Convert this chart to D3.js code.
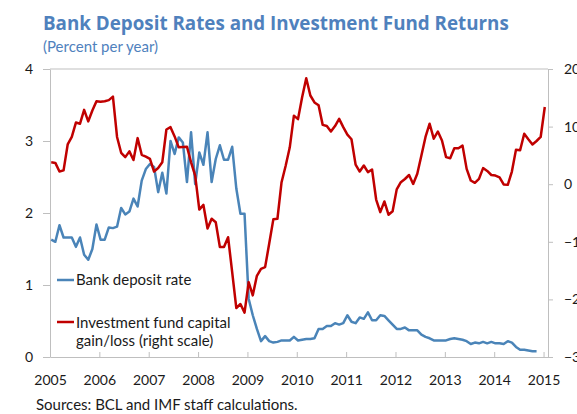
<!DOCTYPE html>
<html>
<head>
<meta charset="utf-8">
<script src="https://cdn.jsdelivr.net/npm/d3@7"></script>
<style>
  body { margin: 0; background: #fff; }
  svg text { font-family: Lato, "Open Sans", sans-serif; }
</style>
</head>
<body>
<svg id="chart"></svg>
<script>
// monthly observations, Jan 2005 onwards
const startYear = 2005;
const years = [2005, 2006, 2007, 2008, 2009, 2010, 2011, 2012, 2013, 2014, 2015];
const leftTicks = [0, 1, 2, 3, 4];
const rightTicks = [-30, -20, -10, 0, 10, 20];

// bank deposit rate, percent (left scale)
const depositRate = [
  1.63, 1.60, 1.83, 1.66, 1.66, 1.66, 1.53, 1.66, 1.42, 1.35, 1.50, 1.84,
  1.63, 1.63, 1.80, 1.79, 1.81, 2.07, 1.98, 2.02, 2.20, 2.09, 2.45, 2.61,
  2.68, 2.64, 2.29, 2.56, 2.27, 3.00, 2.82, 3.05, 2.98, 2.43, 3.12, 2.40,
  2.84, 2.67, 3.12, 2.43, 2.75, 2.94, 2.74, 2.74, 2.92, 2.34, 1.99, 1.99,
  0.81, 0.58, 0.39, 0.22, 0.29, 0.22, 0.20, 0.21, 0.23, 0.23, 0.23, 0.28,
  0.23, 0.24, 0.25, 0.25, 0.26, 0.39, 0.39, 0.43, 0.43, 0.47, 0.45, 0.47,
  0.58, 0.49, 0.47, 0.55, 0.53, 0.62, 0.51, 0.51, 0.58, 0.57, 0.51, 0.45,
  0.39, 0.39, 0.41, 0.37, 0.37, 0.37, 0.31, 0.28, 0.26, 0.23, 0.23, 0.23,
  0.23, 0.25, 0.26, 0.25, 0.24, 0.22, 0.18, 0.20, 0.19, 0.21, 0.19, 0.21,
  0.19, 0.19, 0.18, 0.22, 0.20, 0.14, 0.10, 0.10, 0.09, 0.08, 0.08
];

// investment fund capital gain/loss, percent (right scale)
const fundReturn = [
  3.8, 3.7, 2.2, 2.4, 6.9, 8.2, 10.7, 10.5, 12.9, 10.9, 12.8, 14.4,
  14.3, 14.4, 14.6, 15.2, 8.2, 5.45, 4.7, 5.7, 4.2, 8.0, 5.1, 4.8,
  4.4, 2.2, 2.8, 3.8, 9.5, 9.9, 8.3, 6.4, 6.45, 6.5, 3.8, 1.5,
  -4.4, -3.6, -7.7, -6.0, -6.6, -10.9, -10.9, -9.2, -15.3, -21.5, -20.8, -22.3,
  -17.0, -19.3, -15.9, -14.7, -14.4, -10.3, -6.1, -6.0, 0.35, 3.2, 6.4, 11.9,
  11.3, 15.1, 18.4, 15.4, 14.2, 13.7, 10.3, 10.1, 9.15, 10.1, 11.35, 9.9,
  8.6, 7.8, 3.4, 2.2, 3.25, 2.1, 2.55, -2.66, -4.85, -3.0, -5.3, -4.7,
  -0.9, 0.35, 0.9, 1.6, 0.05, 1.8, 5.0, 8.2, 10.5, 7.9, 9.15, 7.6,
  4.7, 4.5, 6.25, 6.25, 6.7, 2.66, 0.64, 0.24, 0.93, 2.8, 2.3, 1.6,
  1.5, 1.2, -0.05, -0.1, 2.2, 6.0, 5.9, 8.75, 7.8, 6.9, 7.5, 8.2,
  13.4
];

const width = 577, height = 414;
const plotLeft = 50, plotRight = 548, plotTop = 69, plotBottom = 357;
const grey = '#bfbfbf';
const blue = '#4a84b8';
const red = '#c00000';

const svg = d3.select('#chart')
  .attr('width', width)
  .attr('height', height);

const x = d3.scaleLinear()
  .domain([2005, 2015.09])
  .range([plotLeft, plotRight]);

const yLeft = d3.scaleLinear()
  .domain([0, 4])
  .range([plotBottom, plotTop]);

const yRight = d3.scaleLinear()
  .domain([-30, 20])
  .range([plotBottom, plotTop]);

const monthX = (i) => x(startYear + (i + 0.3) / 12);

// title
svg.append('text')
  .attr('x', 43)
  .attr('y', 30)
  .attr('fill', '#4f81bd')
  .style('font-family', '"Open Sans", Lato, sans-serif')
  .style('font-size', '18.8px')
  .style('font-weight', 'bold')
  .text('Bank Deposit Rates and Investment Fund Returns');

svg.append('text')
  .attr('x', 43)
  .attr('y', 52)
  .attr('fill', '#4f81bd')
  .style('font-size', '15px')
  .text('(Percent per year)');

// frame top
svg.append('line')
  .attr('x1', plotLeft).attr('x2', plotRight)
  .attr('y1', plotTop).attr('y2', plotTop)
  .attr('stroke', grey);

const styleAxis = (g) => {
  g.select('.domain').attr('stroke', grey);
  g.selectAll('.tick line').attr('stroke', grey);
  g.selectAll('.tick text')
    .attr('fill', '#1a1a1a')
    .style('font-size', '14px');
};

svg.append('g')
  .attr('transform', `translate(0, ${plotBottom})`)
  .call(d3.axisBottom(x).tickValues(years).tickFormat(d3.format('d'))
    .tickSizeInner(-5).tickSizeOuter(0).tickPadding(18))
  .call(styleAxis);

svg.append('g')
  .attr('transform', `translate(${plotLeft}, 0)`)
  .call(d3.axisLeft(yLeft).tickValues(leftTicks).tickFormat(d3.format('d'))
    .tickSizeInner(7).tickSizeOuter(0).tickPadding(10))
  .call(styleAxis);

svg.append('g')
  .attr('transform', `translate(${plotRight}, 0)`)
  .call(d3.axisRight(yRight).tickValues(rightTicks).tickFormat(d3.format('d'))
    .tickSizeInner(5).tickSizeOuter(0).tickPadding(11))
  .call(styleAxis);

// series
const blueLine = d3.line()
  .x((d, i) => monthX(i))
  .y((d) => yLeft(d));

const redLine = d3.line()
  .x((d, i) => monthX(i))
  .y((d) => yRight(d));

svg.append('path')
  .datum(depositRate)
  .attr('d', blueLine)
  .attr('fill', 'none')
  .attr('stroke', blue)
  .attr('stroke-width', 2.5)
  .attr('stroke-linejoin', 'round');

svg.append('path')
  .datum(fundReturn)
  .attr('d', redLine)
  .attr('fill', 'none')
  .attr('stroke', red)
  .attr('stroke-width', 2.5)
  .attr('stroke-linejoin', 'round');

// legend
const legend = svg.append('g').style('font-size', '15px');

legend.append('line')
  .attr('x1', 57).attr('x2', 74)
  .attr('y1', 280).attr('y2', 280)
  .attr('stroke', blue).attr('stroke-width', 2.5);

legend.append('text')
  .attr('x', 76).attr('y', 285)
  .attr('fill', '#1a1a1a')
  .text('Bank deposit rate');

legend.append('line')
  .attr('x1', 57).attr('x2', 74)
  .attr('y1', 322).attr('y2', 322)
  .attr('stroke', red).attr('stroke-width', 2.5);

legend.append('text')
  .attr('x', 76).attr('y', 328)
  .attr('fill', '#1a1a1a')
  .text('Investment fund capital');

legend.append('text')
  .attr('x', 76).attr('y', 346)
  .attr('fill', '#1a1a1a')
  .text('gain/loss (right scale)');

// source note
svg.append('text')
  .attr('x', 36)
  .attr('y', 410)
  .attr('fill', '#1a1a1a')
  .style('font-size', '15px')
  .text('Sources: BCL and IMF staff calculations.');
</script>
</body>
</html>
